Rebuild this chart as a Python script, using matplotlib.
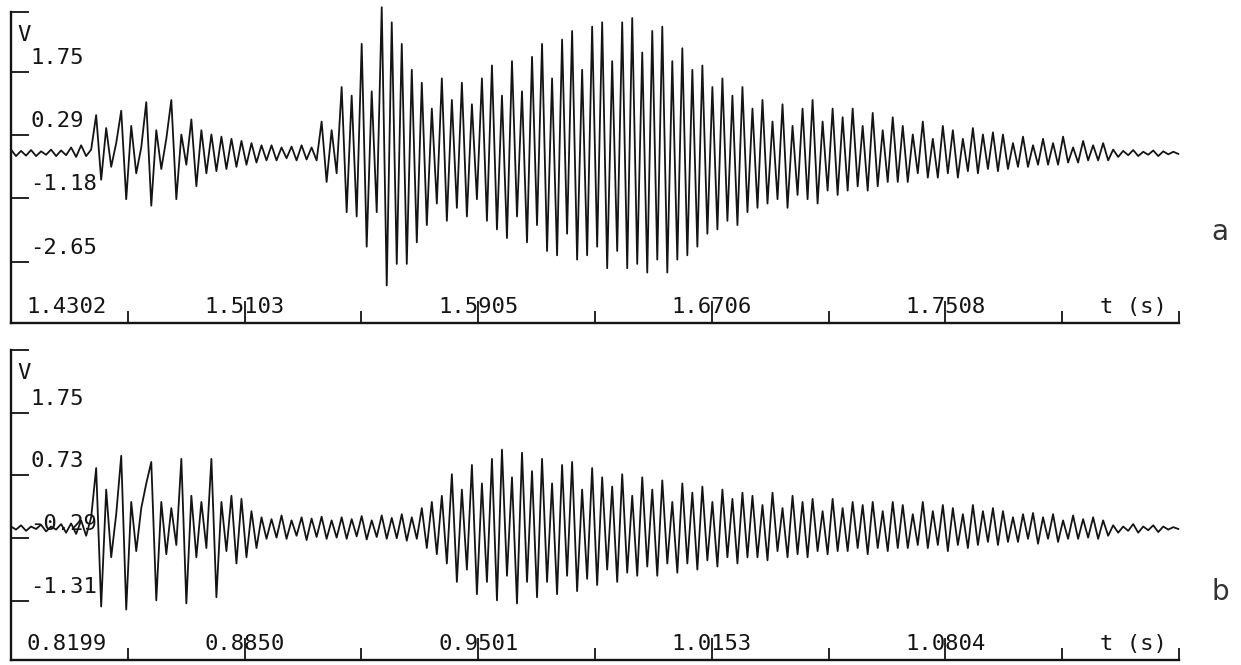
import matplotlib
matplotlib.use("Agg")
import matplotlib.pyplot as plt
import numpy as np

# ---- panel a ----
a_t0 = 1.4302
a_step = 0.08015
a_xlabels = ["1.4302", "1.5103", "1.5905", "1.6706", "1.7508"]
a_yticks = [1.75, 0.29, -1.18, -2.65]
a_ylabels = ["1.75", "0.29", "-1.18", "-2.65"]
a_ylim = (-4.07, 3.14)
a_wave = [
    -0.05, -0.2, -0.08, -0.19, -0.06, -0.2, -0.09, -0.17, -0.05, -0.2,
    -0.07, -0.18, 0.0, -0.22, 0.05, -0.2, -0.05,
    0.75, -0.75, 0.45, -0.45, 0.1, 0.85, -1.2, 0.5, -0.6, 0.0,
    1.05, -1.35, 0.4, -0.5, 0.2, 1.1, -1.2, 0.3, -0.4, 0.65,
    -0.9, 0.4, -0.6, 0.3, -0.55, 0.25, -0.5, 0.2, -0.45, 0.15,
    -0.4, 0.1, -0.35,
    0.05, -0.3, 0.05, -0.3, 0.0, -0.25, 0.02, -0.3, 0.05, -0.28, 0.0, -0.3,
    0.6, -0.8, 0.4, -0.6,
    1.4, -1.5, 1.2, -1.6, 2.4, -2.3, 1.3, -1.5, 3.25, -3.2,
    2.9, -2.7, 2.4, -2.7, 1.8, -2.2, 1.5, -1.8, 0.9, -1.3,
    1.6, -1.7, 1.1, -1.4, 1.5, -1.6, 1.0, -1.2, 1.6, -1.7,
    1.9, -1.9, 1.2, -2.1, 2.0, -1.6, 1.3, -2.2, 2.1, -1.8,
    2.4, -2.4, 1.6, -2.5, 2.5, -2.0, 2.7, -2.6, 1.8, -2.5,
    2.8, -2.3, 2.9, -2.8, 2.0, -2.4, 2.9, -2.8, 3.0, -2.7,
    2.2, -2.9, 2.7, -2.6, 2.8, -2.9, 2.0, -2.6, 2.3, -2.5,
    1.8, -2.3, 1.9, -2.0, 1.4, -1.9, 1.6, -1.7, 1.2, -1.8,
    1.4, -1.5,
    0.9, -1.4, 1.1, -1.3, 0.6, -1.2, 1.0, -1.4, 0.5, -1.1,
    0.9, -1.2, 1.1, -1.3, 0.6, -1.0, 0.9, -1.1, 0.7, -1.0,
    0.9, -0.9, 0.5, -1.0, 0.8, -0.9, 0.4, -0.8, 0.7, -0.8,
    0.5, -0.8, 0.3, -0.6, 0.6, -0.7, 0.2, -0.7, 0.5, -0.6,
    0.4, -0.7, 0.2, -0.55, 0.45, -0.6, 0.3, -0.5, 0.35, -0.55,
    0.3, -0.5, 0.1, -0.45, 0.25, -0.45, 0.05, -0.4, 0.2, -0.4,
    0.1, -0.4, 0.25, -0.35, 0.0, -0.35, 0.15, -0.3, 0.05, -0.3,
    0.1, -0.3,
    -0.05, -0.22, -0.08, -0.18, -0.06, -0.2, -0.1, -0.17, -0.07, -0.2,
    -0.09, -0.16, -0.1, -0.15,
]

# ---- panel b ----
b_t0 = 0.8199
b_step = 0.065125
b_xlabels = ["0.8199", "0.8850", "0.9501", "1.0153", "1.0804"]
b_yticks = [1.75, 0.73, -0.29, -1.31]
b_ylabels = ["1.75", "0.73", "-0.29", "-1.31"]
b_ylim = (-2.27, 2.77)
b_wave = [
    -0.1, -0.15, -0.08, -0.17, -0.1, -0.14, -0.07, -0.18, -0.1, -0.15,
    -0.06, -0.2, -0.05, -0.22, 0.0, -0.25, 0.05,
    0.85, -1.4, 0.5, -0.6, 0.1, 1.05, -1.45, 0.3, -0.5, 0.2,
    0.6, 0.95, -1.3, 0.3, -0.55, 0.2, -0.4, 1.0, -1.35, 0.4,
    -0.6, 0.3, -0.45, 1.0, -1.25, 0.3, -0.5, 0.4, -0.7, 0.35,
    -0.6, 0.15, -0.45,
    0.05, -0.3, 0.02, -0.28, 0.08, -0.3, 0.0, -0.25, 0.05, -0.32,
    0.03, -0.27, 0.06, -0.3, 0.0, -0.28, 0.05, -0.3, 0.02, -0.26,
    0.07, -0.31, 0.0, -0.27, 0.08, -0.3, 0.04, -0.29, 0.1, -0.33,
    0.05, -0.3,
    0.2, -0.45, 0.3, -0.55, 0.4, -0.7, 0.75, -1.0, 0.5, -0.8,
    0.9, -1.2, 0.6, -1.0, 1.0, -1.3, 1.15, -0.9, 0.7, -1.35,
    1.1, -1.0, 0.8, -1.25, 1.0, -1.0, 0.6, -1.2, 0.9, -0.9,
    0.95, -1.15, 0.5, -0.95, 0.85, -1.05, 0.7, -0.8, 0.55, -1.0,
    0.75, -0.85, 0.4, -0.9, 0.7, -0.75, 0.5, -0.9, 0.65, -0.7,
    0.3, -0.85, 0.6, -0.7, 0.45, -0.8, 0.55, -0.65, 0.3, -0.75,
    0.5, -0.6, 0.35, -0.7, 0.45, -0.6,
    0.4, -0.6, 0.25, -0.65, 0.45, -0.5, 0.2, -0.6, 0.4, -0.55,
    0.3, -0.6, 0.35, -0.5, 0.15, -0.55, 0.35, -0.5, 0.2, -0.5,
    0.3, -0.45, 0.25, -0.55, 0.3, -0.45, 0.15, -0.5, 0.3, -0.45,
    0.25, -0.45, 0.1, -0.4, 0.3, -0.45, 0.15, -0.4, 0.25, -0.5,
    0.2, -0.4, 0.1, -0.45, 0.25, -0.4, 0.15, -0.35, 0.2, -0.4,
    0.15, -0.35, 0.05, -0.35, 0.1, -0.3, 0.12, -0.38, 0.05, -0.3,
    0.1, -0.35, 0.0, -0.3, 0.08, -0.3, 0.02, -0.28, 0.05, -0.3,
    0.0, -0.25,
    -0.08, -0.2, -0.1, -0.17, -0.06, -0.2, -0.1, -0.16, -0.08, -0.19,
    -0.1, -0.15, -0.11, -0.14,
]

INK = "#141414"
MONO = "DejaVu Sans Mono"
W, H = 1241, 665

fig = plt.figure(figsize=(W / 100, H / 100), dpi=100)
fig.patch.set_facecolor("white")


def panel(rect, t0, step, xlabels, yticks, ylabels, ylim, wave, tag, tag_y):
    ax = fig.add_axes(rect)
    t1 = t0 + 5 * step
    ax.set_xlim(t0, t1)
    ax.set_ylim(*ylim)
    for s in ["top", "right"]:
        ax.spines[s].set_visible(False)
    for s in ["left", "bottom"]:
        ax.spines[s].set_linewidth(1.7)
        ax.spines[s].set_color(INK)

    t = np.linspace(t0, t1 - 0.003 * step, len(wave))
    ax.plot(t, wave, color=INK, lw=1.3, clip_on=False, zorder=3)

    # x ticks: tall at labelled values, short at midpoints + right end
    major = [t0 + k * step for k in range(5)]
    minor = [t0 + (k + 0.5) * step for k in range(5)] + [t1]
    ax.set_xticks(major)
    ax.set_xticks(minor, minor=True)
    ax.tick_params(axis="x", which="major", direction="in", length=16, width=1.3,
                   color=INK, labelbottom=False)
    ax.tick_params(axis="x", which="minor", direction="in", length=9, width=1.3,
                   color=INK, labelbottom=False)

    # y ticks
    ax.set_yticks(yticks + [ylim[1]])
    ax.tick_params(axis="y", which="major", direction="in", length=13, width=1.3,
                   color=INK, labelleft=False)
    ax.set_yticks([], minor=True)

    for v, lab in zip(yticks, ylabels):
        ax.annotate(lab, xy=(0, v), xycoords=("axes fraction", "data"),
                    xytext=(19, 4), textcoords="offset pixels",
                    ha="left", va="bottom", family=MONO, fontsize=16, color=INK,
                    zorder=1)
    ax.annotate("V", xy=(0, 1), xycoords="axes fraction", xytext=(6, -23),
                textcoords="offset pixels", ha="left", va="center",
                family=MONO, fontsize=16, color=INK)

    for k, lab in enumerate(xlabels):
        if k == 0:
            ax.annotate(lab, xy=(t0, 0), xycoords=("data", "axes fraction"),
                        xytext=(15, 16), textcoords="offset pixels",
                        ha="left", va="center", family=MONO, fontsize=16, color=INK)
        else:
            ax.annotate(lab, xy=(major[k], 0), xycoords=("data", "axes fraction"),
                        xytext=(0, 16), textcoords="offset pixels",
                        ha="center", va="center", family=MONO, fontsize=16, color=INK)
    ax.annotate("t (s)", xy=(t1, 0), xycoords=("data", "axes fraction"),
                xytext=(-12, 16), textcoords="offset pixels",
                ha="right", va="center", family=MONO, fontsize=16, color=INK)

    fig.text(1220 / W, 1 - tag_y / H, tag, ha="center", va="center",
             fontsize=20, color="#333333", family="DejaVu Sans")
    return ax


left = 11 / W
width = (1179 - 11) / W
panel([left, 1 - 323 / H, width, (323 - 12) / H], a_t0, a_step, a_xlabels,
      a_yticks, a_ylabels, a_ylim, a_wave, "a", 232)
panel([left, 1 - 660 / H, width, (660 - 350) / H], b_t0, b_step, b_xlabels,
      b_yticks, b_ylabels, b_ylim, b_wave, "b", 592)

fig.savefig("out.png", dpi=100, facecolor="white")
